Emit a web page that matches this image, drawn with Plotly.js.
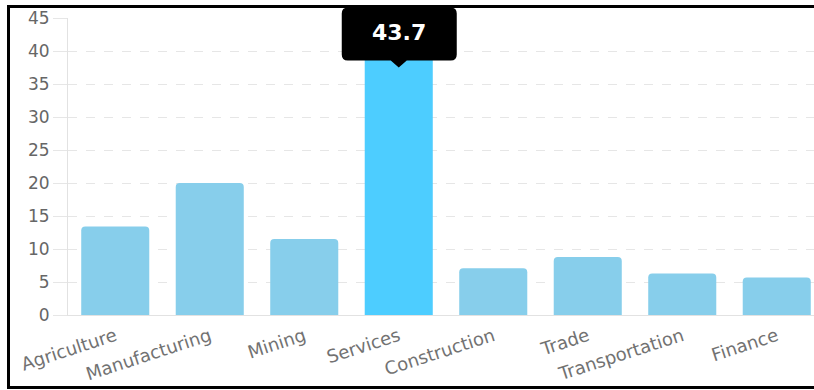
<!DOCTYPE html>
<html>
<head>
<meta charset="utf-8">
<script src="https://cdn.plot.ly/plotly-3.0.1.min.js"></script>
<style>
  html, body { margin: 0; padding: 0; width: 814px; height: 390px; overflow: hidden; background: #fff; }
  #frame { position: absolute; left: 7px; top: 5px; width: 900px; height: 378px; border: 3px solid #000; box-sizing: content-box; pointer-events: none; z-index: 2; }
  #chart { position: absolute; left: 0; top: 0; width: 840px; height: 390px; }
</style>
</head>
<body>
<div id="chart"></div>
<div id="frame"></div>
<script>
const categories = ["Agriculture", "Manufacturing", "Mining", "Services", "Construction", "Trade", "Transportation", "Finance"];
const values = [13.4, 20.0, 11.5, 43.7, 7.1, 8.8, 6.3, 5.7];
const yTicks = [0, 5, 10, 15, 20, 25, 30, 35, 40, 45];
const highlighted = "Services";

const baseColor = "#87CEEB";
const hiColor = "#4dcdff";
const yMax = 45;
const hiIndex = categories.indexOf(highlighted);
const hiValue = values[hiIndex];

const trace = {
  type: "bar",
  x: categories,
  y: values,
  marker: {
    color: categories.map(c => c === highlighted ? hiColor : baseColor),
    cornerradius: 4
  },
  hoverinfo: "none"
};

// tooltip box path in pixels relative to the highlighted bar top
const tipPath = "M -51 19 L 52 19 Q 58 19 58 13 L 58 -28 Q 58 -34 52 -34 L 8 -34 L 0 -41 L -8 -34 L -51 -34 Q -57 -34 -57 -28 L -57 13 Q -57 19 -51 19 Z";

const layout = {
  width: 840,
  height: 390,
  margin: { l: 68, r: 16, t: 18, b: 75 },
  paper_bgcolor: "rgba(0,0,0,0)",
  plot_bgcolor: "rgba(0,0,0,0)",
  showlegend: false,
  bargap: 0.28,
  font: { family: "DejaVu Sans, Arial, sans-serif", color: "#666" },
  xaxis: {
    type: "category",
    range: [-0.5, categories.length - 0.5],
    showgrid: false,
    showline: true,
    linecolor: "#e2e2e2",
    linewidth: 1,
    ticks: "",
    tickangle: -18,
    ticklabelstandoff: 3,
    tickfont: { size: 18, color: "#727272", family: "DejaVu Sans, Arial, sans-serif" },
    fixedrange: true
  },
  yaxis: {
    range: [0, yMax],
    tickvals: yTicks,
    ticktext: yTicks.map(String),
    showgrid: true,
    gridcolor: "#e6e6e6",
    griddash: "dash",
    gridwidth: 1,
    zeroline: false,
    showline: true,
    linecolor: "#e2e2e2",
    linewidth: 1,
    ticks: "outside",
    ticklen: 14,
    tickcolor: "#e6e6e6",
    tickfont: { size: 17, color: "#666", family: "DejaVu Sans, Arial, sans-serif" },
    fixedrange: true
  },
  shapes: [{
    type: "path",
    xref: "paper", yref: "paper",
    xsizemode: "pixel", ysizemode: "pixel",
    xanchor: (hiIndex + 0.5) / categories.length,
    yanchor: hiValue / yMax,
    path: tipPath,
    fillcolor: "#000",
    line: { width: 0 },
    layer: "above"
  }],
  annotations: [{
    x: highlighted, y: hiValue, xref: "x", yref: "y",
    text: "<b>" + hiValue.toFixed(1) + "</b>",
    showarrow: false,
    yshift: -6,
    font: { size: 22, color: "#fff", family: "DejaVu Sans, Arial, sans-serif" }
  }]
};

Plotly.newPlot("chart", [trace], layout, { displayModeBar: false, staticPlot: true });
</script>
</body>
</html>
